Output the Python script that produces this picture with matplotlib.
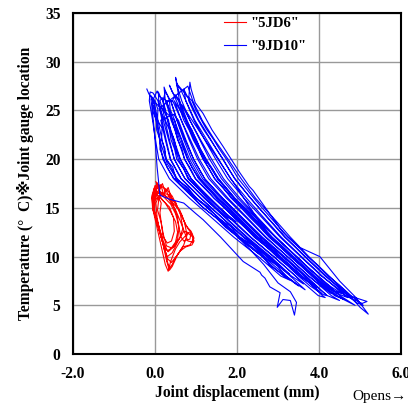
import numpy as np
import matplotlib
matplotlib.use("Agg")
import matplotlib.pyplot as plt

# joint 5JD6: displacement (mm), temperature (C), loop by loop
red_loops = [
    [(0.02, 17.7), (0.1, 17.0), (0.14, 17.4), (0.2, 16.5), (0.35, 15.8), (0.5, 14.8), (0.62, 13.6),
     (0.72, 12.5), (0.8, 11.6), (0.92, 11.5), (0.93, 12.0), (0.8, 12.4), (0.6, 11.5), (0.5, 10.8),
     (0.38, 9.5), (0.32, 8.5), (0.25, 9.2), (0.18, 10.5), (0.1, 12.0), (0.02, 13.5), (-0.06, 15.0),
     (-0.08, 16.2), (0.0, 17.3)],
    [(0.15, 16.6), (0.3, 16.0), (0.36, 16.5), (0.45, 15.2), (0.55, 14.0), (0.58, 12.8), (0.55, 11.8),
     (0.45, 11.0), (0.32, 10.5), (0.2, 11.2), (0.12, 12.5), (0.05, 14.0), (0.02, 15.5), (0.1, 16.3)],
    [(0.18, 15.8), (0.35, 15.1), (0.45, 14.0), (0.47, 12.6), (0.4, 11.6), (0.3, 11.4), (0.2, 12.0),
     (0.16, 13.2), (0.12, 14.5), (0.15, 15.5)],
    [(0.0, 16.8), (0.2, 16.2), (0.26, 16.9), (0.4, 15.6), (0.6, 14.8), (0.72, 13.5), (0.78, 12.2),
     (0.7, 11.2), (0.55, 10.2), (0.4, 9.4), (0.3, 9.8), (0.22, 11.0), (0.12, 12.5), (0.02, 14.0),
     (-0.05, 15.4), (-0.02, 16.5)],
    [(0.08, 17.4), (0.28, 16.9), (0.42, 16.2), (0.52, 15.3), (0.65, 14.3), (0.75, 13.2), (0.88, 12.6),
     (0.95, 11.9), (0.85, 11.2), (0.68, 11.0), (0.55, 10.2), (0.42, 9.0), (0.35, 8.6), (0.28, 9.6),
     (0.2, 11.2), (0.08, 13.0), (-0.04, 14.8), (-0.02, 16.0), (0.04, 17.0)],
    [(-0.05, 16.0), (0.1, 16.6), (0.3, 16.4), (0.5, 15.6), (0.62, 14.3), (0.68, 12.9), (0.6, 11.9),
     (0.45, 11.0), (0.3, 10.6), (0.2, 11.6), (0.1, 13.0), (0.0, 14.4), (-0.06, 15.4), (-0.05, 16.0)],
    [(0.05, 17.6), (0.12, 16.9), (0.18, 17.5), (0.25, 16.6), (0.32, 17.1), (0.4, 16.0), (0.48, 15.5),
     (0.6, 14.6), (0.7, 13.7), (0.8, 12.9), (0.9, 12.3), (0.95, 11.6), (0.9, 11.2), (0.75, 11.0),
     (0.62, 10.6), (0.5, 9.9), (0.42, 9.2), (0.35, 8.8), (0.3, 9.5), (0.25, 10.6), (0.15, 12.0),
     (0.05, 13.5), (-0.05, 14.8), (-0.07, 16.0), (-0.02, 17.0)],
    [(0.0, 15.8), (0.08, 16.8), (0.22, 16.1), (0.38, 15.4), (0.5, 14.4), (0.58, 13.2), (0.62, 12.1),
     (0.7, 11.6), (0.85, 11.8), (0.88, 12.4), (0.7, 12.6), (0.56, 11.6), (0.42, 10.4), (0.3, 10.0),
     (0.22, 10.8), (0.15, 12.2), (0.06, 13.6), (-0.02, 14.8), (0.0, 15.8)],
    [(0.1, 16.2), (0.25, 15.5), (0.38, 14.6), (0.5, 13.6), (0.55, 12.5), (0.5, 11.5), (0.4, 10.9),
     (0.28, 11.1), (0.2, 12.3), (0.15, 13.5), (0.06, 14.8), (0.1, 16.2)],
]

# joint 9JD10
blue_loops = [
    [(-0.2, 27.2), (-0.15, 26.7), (-0.04, 26.0), (0.04, 24.0), (0.08, 23.1), (0.11, 22.0), (0.19, 20.0),
     (0.45, 18.0), (0.94, 16.0), (1.1, 15.3), (1.48, 14.0), (2.02, 12.0), (2.62, 10.0), (2.8, 9.1),
     (3.17, 8.0), (3.28, 7.6), (3.07, 8.0), (2.52, 10.0), (1.92, 12.0), (1.38, 14.0), (0.84, 16.0),
     (0.35, 18.0), (0.09, 20.0), (0.01, 22.0), (-0.06, 24.0), (-0.14, 26.0), (-0.12, 26.9)],
    [(-0.05, 26.8), (0.07, 26.0), (0.17, 24.0), (0.27, 22.0), (0.38, 20.0), (0.64, 18.0), (1.12, 16.0),
     (1.64, 14.0), (2.17, 12.0), (2.4, 11.3), (2.75, 10.0), (3.3, 8.0), (3.66, 6.6), (3.45, 7.2),
     (3.2, 8.0), (2.65, 10.0), (2.07, 12.0), (1.54, 14.0), (1.02, 16.0), (0.54, 18.0), (0.28, 20.0),
     (0.17, 22.0), (0.07, 24.0), (-0.03, 26.0)],
    [(-0.1, 26.5), (0.0, 26.0), (0.07, 25.1), (0.06, 24.0), (0.17, 23.2), (0.16, 22.0), (0.24, 21.1),
     (0.26, 20.0), (0.43, 19.2), (0.51, 18.0), (0.8, 17.1), (1.0, 16.0), (1.3, 15.1), (1.53, 14.0),
     (1.84, 13.1), (2.07, 12.0), (2.4, 11.1), (2.66, 10.0), (2.97, 9.1), (3.2, 8.0), (3.5, 7.0),
     (3.3, 7.6), (3.14, 8.0), (2.84, 9.1), (2.62, 10.0), (2.28, 11.1), (2.03, 12.0), (1.72, 13.0),
     (1.49, 14.0), (1.18, 15.0), (0.96, 16.0), (0.68, 17.1), (0.47, 18.0), (0.3, 19.1), (0.22, 20.0),
     (0.12, 21.0), (0.12, 22.0), (0.04, 23.0), (0.03, 24.0), (-0.06, 25.0), (-0.06, 26.0)],
    [(0.05, 27.0), (0.12, 26.4), (0.19, 26.0), (0.3, 24.0), (0.43, 22.0), (0.57, 20.0), (0.83, 18.0),
     (1.3, 16.0), (1.81, 14.0), (2.32, 12.0), (2.89, 10.0), (3.43, 8.0), (3.62, 7.2), (3.33, 8.0),
     (2.79, 10.0), (2.22, 12.0), (1.71, 14.0), (1.2, 16.0), (0.73, 18.0), (0.47, 20.0), (0.33, 22.0),
     (0.2, 24.0), (0.09, 26.0)],
    [(0.08, 26.9), (0.13, 26.4), (0.2, 26.0), (0.21, 25.0), (0.33, 24.0), (0.37, 23.0), (0.47, 22.0),
     (0.52, 21.0), (0.61, 20.0), (0.74, 19.0), (0.88, 18.0), (1.09, 17.0), (1.34, 16.0), (1.57, 15.0),
     (1.85, 14.0), (1.98, 13.6), (1.77, 14.0), (1.5, 15.0), (1.26, 16.0), (1.04, 17.0), (0.8, 18.0),
     (0.7, 19.0), (0.53, 20.0), (0.48, 21.0), (0.39, 22.0), (0.35, 23.0), (0.25, 24.0), (0.19, 25.0),
     (0.12, 26.0)],
    [(0.18, 26.3), (0.28, 26.0), (0.41, 24.0), (0.56, 22.0), (0.72, 20.0), (0.98, 18.0), (1.44, 16.0),
     (1.94, 14.0), (2.44, 12.0), (3.0, 10.0), (3.53, 8.0), (3.8, 7.2), (4.08, 6.0), (4.15, 5.8),
     (3.98, 6.0), (3.43, 8.0), (2.9, 10.0), (2.34, 12.0), (1.84, 14.0), (1.34, 16.0), (0.88, 18.0),
     (0.62, 20.0), (0.46, 22.0), (0.31, 24.0), (0.2, 26.0)],
    [(0.25, 27.0), (0.3, 26.6), (0.35, 26.0), (0.37, 25.1), (0.48, 24.0), (0.53, 23.1), (0.64, 22.0),
     (0.7, 21.2), (0.8, 20.0), (0.91, 19.1), (1.08, 18.0), (1.26, 17.2), (1.52, 16.0), (1.74, 15.2),
     (2.01, 14.0), (2.22, 13.1), (2.5, 12.0), (2.75, 11.2), (3.05, 10.0), (3.28, 9.1), (3.58, 8.0),
     (3.82, 7.1), (4.06, 6.2), (3.85, 6.8), (3.78, 7.0), (3.5, 8.0), (3.25, 9.0), (2.97, 10.0),
     (2.72, 11.0), (2.42, 12.0), (2.19, 13.0), (1.93, 14.0), (1.7, 15.0), (1.44, 16.0), (1.23, 17.0),
     (0.99, 18.0), (0.87, 19.0), (0.72, 20.0), (0.66, 21.0), (0.55, 22.0), (0.49, 23.0), (0.39, 24.0),
     (0.33, 25.0), (0.25, 26.0)],
    [(0.22, 27.4), (0.27, 26.8), (0.38, 26.0), (0.53, 24.0), (0.7, 22.0), (0.89, 20.0), (1.16, 18.0),
     (1.6, 16.0), (2.08, 14.0), (2.57, 12.0), (3.12, 10.0), (3.65, 8.0), (3.95, 6.8), (3.55, 8.0),
     (3.02, 10.0), (2.47, 12.0), (1.98, 14.0), (1.5, 16.0), (1.06, 18.0), (0.79, 20.0), (0.6, 22.0),
     (0.43, 24.0), (0.28, 26.0)],
    [(0.43, 26.0), (0.64, 24.0), (0.83, 22.0), (1.04, 20.0), (1.31, 18.0), (1.74, 16.0), (2.22, 14.0),
     (2.69, 12.0), (3.23, 10.0), (3.75, 8.0), (4.3, 6.0), (4.5, 5.5), (4.2, 6.0), (3.65, 8.0),
     (3.13, 10.0), (2.59, 12.0), (2.12, 14.0), (1.64, 16.0), (1.21, 18.0), (0.94, 20.0), (0.73, 22.0),
     (0.54, 24.0), (0.4, 25.8)],
    [(0.5, 26.6), (0.6, 26.0), (0.67, 25.2), (0.78, 24.0), (0.87, 23.1), (1.01, 22.0), (1.1, 21.1),
     (1.25, 20.0), (1.37, 19.2), (1.53, 18.0), (1.72, 17.1), (1.94, 16.0), (2.15, 15.1), (2.4, 14.0),
     (2.6, 13.2), (2.86, 12.0), (3.1, 11.1), (3.38, 10.0), (3.62, 9.1), (3.9, 8.0), (4.16, 7.1),
     (4.45, 6.0), (4.62, 5.6), (4.38, 6.0), (4.1, 7.0), (3.82, 8.0), (3.57, 9.0), (3.3, 10.0),
     (3.05, 11.0), (2.78, 12.0), (2.56, 13.0), (2.32, 14.0), (2.1, 15.0), (1.86, 16.0), (1.67, 17.0),
     (1.45, 18.0), (1.32, 19.0), (1.17, 20.0), (1.06, 21.0), (0.93, 22.0), (0.83, 23.0), (0.7, 24.0),
     (0.62, 25.0), (0.52, 26.0)],
    [(0.35, 27.6), (0.42, 26.9), (0.57, 26.0), (0.74, 24.0), (0.96, 22.0), (1.18, 20.0), (1.46, 18.0),
     (1.88, 16.0), (2.35, 14.0), (2.81, 12.0), (3.33, 10.0), (3.85, 8.0), (4.3, 6.2), (3.75, 8.0),
     (3.23, 10.0), (2.71, 12.0), (2.25, 14.0), (1.78, 16.0), (1.36, 18.0), (1.08, 20.0), (0.86, 22.0),
     (0.64, 24.0), (0.47, 26.0)],
    [(0.9, 23.0), (1.0, 22.0), (1.1, 21.0), (1.2, 20.0), (1.4, 19.0), (1.55, 18.0), (1.75, 17.0),
     (1.95, 16.0), (2.2, 15.0), (2.45, 14.0), (2.68, 13.0), (2.95, 12.0), (3.2, 11.0), (3.46, 10.0),
     (3.7, 9.0), (3.98, 8.0), (4.26, 7.0), (4.55, 6.2), (4.3, 6.6), (4.02, 7.4), (3.75, 8.4),
     (3.5, 9.3), (3.25, 10.3), (3.0, 11.3), (2.75, 12.3)],
    [(0.65, 25.6), (0.85, 24.0), (1.09, 22.0), (1.33, 20.0), (1.62, 18.0), (2.02, 16.0), (2.48, 14.0),
     (2.93, 12.0), (3.44, 10.0), (3.96, 8.0), (4.51, 6.0), (4.88, 5.0), (4.41, 6.0), (3.86, 8.0),
     (3.34, 10.0), (2.83, 12.0), (2.38, 14.0), (1.92, 16.0), (1.52, 18.0), (1.23, 20.0), (0.99, 22.0),
     (0.75, 24.0), (0.62, 25.4)],
    [(0.5, 28.4), (0.55, 27.5), (0.62, 27.2), (0.75, 26.0), (0.95, 24.0), (1.21, 22.0), (1.48, 20.0),
     (1.77, 18.0), (2.17, 16.0), (2.61, 14.0), (3.05, 12.0), (3.55, 10.0), (4.06, 8.0), (4.53, 6.5),
     (4.7, 5.8), (4.45, 6.2), (3.96, 8.0), (3.45, 10.0), (2.95, 12.0), (2.51, 14.0), (2.07, 16.0),
     (1.67, 18.0), (1.38, 20.0), (1.11, 22.0), (0.85, 24.0), (0.65, 26.0), (0.52, 27.8)],
    [(0.72, 26.8), (0.85, 26.0), (1.07, 24.0), (1.36, 22.0), (1.65, 20.0), (1.94, 18.0), (2.33, 16.0),
     (2.75, 14.0), (3.18, 12.0), (3.67, 10.0), (4.18, 8.0), (4.73, 6.0), (5.17, 5.4), (5.05, 5.2),
     (4.63, 6.0), (4.08, 8.0), (3.57, 10.0), (3.08, 12.0), (2.65, 14.0), (2.23, 16.0), (1.84, 18.0),
     (1.55, 20.0), (1.26, 22.0), (0.97, 24.0), (0.75, 26.0)],
    [(0.7, 27.2), (0.78, 26.5), (0.9, 26.0), (0.99, 25.1), (1.13, 24.0), (1.25, 23.1), (1.43, 22.0),
     (1.56, 21.1), (1.74, 20.0), (1.86, 19.2), (2.03, 18.0), (2.2, 17.1), (2.41, 16.0), (2.59, 15.1),
     (2.82, 14.0), (3.01, 13.1), (3.24, 12.0), (3.47, 11.1), (3.73, 10.0), (3.96, 9.1), (4.23, 8.0),
     (4.49, 7.1), (4.78, 6.0), (5.08, 5.0), (4.9, 5.3), (4.7, 6.0), (4.43, 7.0), (4.15, 8.0),
     (3.9, 9.0), (3.65, 10.0), (3.41, 11.0), (3.16, 12.0), (2.95, 13.0), (2.74, 14.0), (2.53, 15.0),
     (2.33, 16.0), (2.14, 17.0), (1.95, 18.0), (1.8, 19.0), (1.66, 20.0), (1.5, 21.0), (1.35, 22.0),
     (1.19, 23.0), (1.05, 24.0), (0.93, 25.0), (0.82, 26.0)],
    [(0.85, 27.9), (0.88, 27.2), (0.98, 25.8), (1.17, 24.7), (1.39, 23.0), (1.66, 21.3), (2.07, 18.6),
     (2.3, 17.2), (2.39, 16.8), (2.73, 14.8), (3.1, 12.6), (3.5, 11.0), (4.02, 10.0), (4.5, 7.5),
     (4.9, 5.8), (5.2, 4.1), (5.0, 4.8), (4.75, 6.0), (4.25, 8.0), (3.75, 10.0), (3.3, 12.0),
     (2.88, 14.0), (2.45, 16.0), (2.1, 18.0), (1.78, 20.0), (1.45, 22.0), (1.15, 24.0), (0.92, 26.0),
     (0.8, 27.5)],
    [(0.1, 25.2), (0.24, 24.0), (0.35, 22.0), (0.47, 20.0), (0.73, 18.0), (1.21, 16.0), (1.73, 14.0),
     (2.25, 12.0), (2.82, 10.0), (3.28, 8.2), (2.72, 10.0), (2.15, 12.0), (1.63, 14.0), (1.11, 16.0),
     (0.63, 18.0), (0.37, 20.0), (0.25, 22.0), (0.14, 24.0)],
    [(0.45, 24.6), (0.57, 24.0), (0.75, 22.0), (0.94, 20.0), (1.21, 18.0), (1.65, 16.0), (2.13, 14.0),
     (2.62, 12.0), (3.16, 10.0), (3.69, 8.0), (4.19, 6.0), (4.1, 6.1), (3.59, 8.0), (3.06, 10.0),
     (2.52, 12.0), (2.03, 14.0), (1.55, 16.0), (1.11, 18.0), (0.84, 20.0), (0.65, 22.0), (0.47, 24.0)],
    [(-0.1, 26.2), (-0.05, 24.3), (0.0, 22.0), (0.05, 19.2), (0.12, 16.3), (0.35, 15.9), (0.7, 15.5),
     (1.0, 14.4), (1.17, 13.8), (1.6, 12.0), (2.15, 9.5), (2.56, 8.4), (2.6, 8.1), (2.68, 7.8),
     (2.8, 6.9), (3.05, 6.3), (2.98, 4.8), (3.12, 5.6), (3.3, 5.5), (3.4, 4.0), (3.45, 5.3),
     (3.3, 6.4), (3.0, 7.3), (2.65, 9.2), (2.3, 10.8), (1.9, 12.5), (1.5, 14.2), (1.0, 16.0),
     (0.6, 17.5), (0.3, 19.5), (0.15, 21.5), (0.05, 23.5), (-0.05, 25.5)],
]

x_ticks = [-2, 0, 2, 4, 6]
x_ticklabels = ["-2.0", "0.0", "2.0", "4.0", "6.0"]
y_ticks = [0, 5, 10, 15, 20, 25, 30, 35]

plt.rcParams['font.family'] = ['Liberation Serif', 'DejaVu Sans']

fig = plt.figure(figsize=(4.08, 4.07), dpi=100)
ax = fig.add_axes([0.179, 0.130, 0.804, 0.838])

red = np.array([p for loop in red_loops for p in loop])
blue = np.array([p for loop in blue_loops for p in loop])

ax.plot(red[:, 0], red[:, 1], color='#ff0000', lw=0.8, label='"5JD6"')
ax.plot(blue[:, 0], blue[:, 1], color='#0000ff', lw=0.8, label='"9JD10"')

ax.set_xlim(-2, 6)
ax.set_ylim(0, 35)
ax.set_xticks(x_ticks)
ax.set_xticklabels(x_ticklabels)
ax.set_yticks(y_ticks)
ax.tick_params(length=0, labelsize=11.2)
ax.tick_params(axis='x', pad=8.5)
ax.tick_params(axis='y', pad=9)
for lab in ax.get_xticklabels() + ax.get_yticklabels():
    lab.set_fontweight('bold')
ax.grid(True, color='#999999', lw=1)
ax.set_axisbelow(True)
for s in ax.spines.values():
    s.set_linewidth(1.5)
    s.set_color('black')

ax.set_xlabel('Joint displacement (mm)', fontsize=11.2, fontweight='bold', labelpad=2)
ax.set_ylabel('Temperature (°  C)※Joint gauge location', fontsize=11.2,
              fontweight='bold', labelpad=8)
fig.text(0.863, 0.027, 'Opens→', fontsize=11, va='center')

ax.legend(loc='upper left', bbox_to_anchor=(0.46, 0.99), frameon=False,
          prop={'weight': 'bold', 'size': 10.5}, handlelength=1.5,
          handletextpad=0.3, labelspacing=0.7, borderaxespad=0, borderpad=0)

fig.savefig('out.png', dpi=100)
